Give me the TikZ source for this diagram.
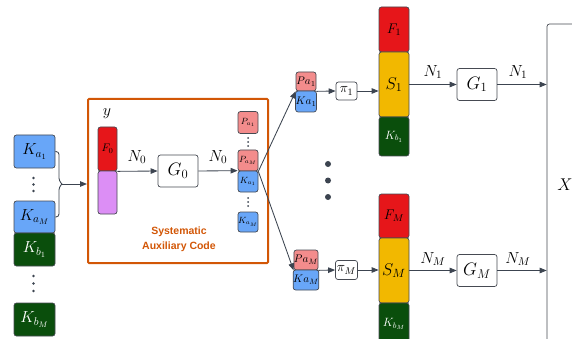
\documentclass[tikz,border=0pt]{standalone}
\usepackage{fix-cm}
\usepackage{fontspec}
\newfontfamily\labfont{Liberation Sans}
\usetikzlibrary{arrows.meta}
\definecolor{bord}{RGB}{70,74,82}
\definecolor{lin}{RGB}{60,68,80}
\definecolor{kblue}{RGB}{104,166,248}
\definecolor{kgreen}{RGB}{10,78,12}
\definecolor{ppink}{RGB}{243,140,140}
\definecolor{fred}{RGB}{230,22,26}
\definecolor{syel}{RGB}{242,184,0}
\definecolor{vpur}{RGB}{220,142,245}
\definecolor{sacor}{RGB}{210,86,6}
\newcommand{\fs}[1]{\fontsize{#1}{#1}\selectfont}
\tikzset{
  bx/.style={draw=bord, line width=0.7pt, rounded corners=2.5pt, inner sep=0pt},
  conn/.style={draw=lin, line width=0.85pt},
  arr/.style={conn, -{Triangle[length=7pt,width=5.5pt]}},
  bluebx/.style={bx, fill=kblue},
  greenbx/.style={bx, fill=kgreen, text=white},
  pinkbx/.style={bx, fill=ppink},
  redbx/.style={bx, fill=fred},
  yelbx/.style={bx, fill=syel},
  purbx/.style={bx, fill=vpur},
  whitebx/.style={bx, fill=white},
  lab/.style={inner sep=0pt},
  dotsm/.style={fill=lin, draw=none, circle, inner sep=0pt, minimum size=2.6pt},
  dotbig/.style={fill=lin, draw=none, circle, inner sep=0pt, minimum size=6pt},
}
\begin{document}
\begin{tikzpicture}[x=1pt,y=-1pt]
\useasboundingbox (0,0) rectangle (572,339);
% left column
\node[bluebx, minimum width=41pt, minimum height=33pt] (ka1) at (34.5,151.5) {\fs{16}$K_{a_1}$};
\node[bluebx, minimum width=41pt, minimum height=32pt] (kaM) at (34.5,217) {\fs{16}$K_{a_M}$};
\node[greenbx, minimum width=41pt, minimum height=33pt] (kb1) at (34.5,249.5) {\fs{16}$K_{b_1}$};
\node[greenbx, minimum width=41pt, minimum height=33pt] (kbM) at (34.5,319.5) {\fs{16}$K_{b_M}$};
\node[dotsm] (ld1) at (33.5,178) {};
\node[dotsm] (ld2) at (33.5,184.5) {};
\node[dotsm] (ld3) at (33.5,191) {};
\node[dotsm] (ld4) at (33.5,276) {};
\node[dotsm] (ld5) at (33.5,283.5) {};
\node[dotsm] (ld6) at (33.5,291) {};
% orange box
\node[draw=sacor, line width=2pt, rounded corners=1pt, minimum width=180pt, minimum height=164pt, inner sep=0pt] (sac) at (178,181) {};
\node[lab, text=sacor, align=center, font=\labfont\bfseries\fontsize{10.5}{15}\selectfont] (sactxt) at (179,239.5) {Systematic\\Auxiliary Code};
% brace
\coordinate (btip) at (62,184);
\draw[conn, rounded corners=3pt] (ka1.east) -- (59,151.5) -- (59,181) -- (btip);
\draw[conn, rounded corners=3pt] (kaM.east) -- (59,217) -- (59,187) -- (btip);
\draw[arr] (btip) -- (sac.west |- btip);
% inside
\node[lab] (ylab) at (107,114) {\fs{16}$y$};
\node[redbx, minimum width=19pt, minimum height=44pt] (f0) at (107.5,149) {\fs{11}$F_0$};
\node[purbx, minimum width=19pt, minimum height=43pt] (pur) at (107.5,192.5) {};
\node[whitebx, minimum width=40pt, minimum height=32pt] (g0) at (178,171) {\fs{18}$G_0$};
\node[pinkbx, minimum width=20pt, minimum height=22pt] (pa1) at (248,122.5) {\fs{9}$P_{a_1}$};
\node[pinkbx, minimum width=20pt, minimum height=21pt] (paM) at (248,160.5) {\fs{9}$P_{a_M}$};
\node[bluebx, minimum width=20pt, minimum height=21pt] (kc1) at (248,181.5) {\fs{9}$K_{a_1}$};
\node[bluebx, minimum width=20pt, minimum height=20pt] (kcM) at (248,222) {\fs{9}$K_{a_M}$};
\node[dotsm, minimum size=2pt] (md1) at (248,138) {};
\node[dotsm, minimum size=2pt] (md2) at (248,142) {};
\node[dotsm, minimum size=2pt] (md3) at (248,146) {};
\node[dotsm, minimum size=2pt] (md4) at (248,198) {};
\node[dotsm, minimum size=2pt] (md5) at (248,202) {};
\node[dotsm, minimum size=2pt] (md6) at (248,206) {};
\draw[arr] (f0.south east) -- (g0.west);
\node[lab] (n0a) at (137,157) {\fs{16}$N_0$};
\draw[arr] (g0.east) -- (kc1.north west);
\node[lab] (n0b) at (218,157) {\fs{16}$N_0$};
% pairs
\node[pinkbx, minimum width=20pt, minimum height=19pt] (pp1) at (306,81.5) {\fs{11}$Pa_1$};
\node[bluebx, minimum width=20pt, minimum height=21pt] (kp1) at (306,101.5) {\fs{11}$Ka_1$};
\node[pinkbx, minimum width=20pt, minimum height=20pt] (ppM) at (306,260) {\fs{11}$Pa_M$};
\node[bluebx, minimum width=20pt, minimum height=20pt] (kpM) at (306,280) {\fs{11}$Ka_M$};
\draw[arr] (paM.south east) -- (pp1.south west);
\draw[arr] (paM.south east) -- (ppM.south west);
\node[whitebx, minimum width=21pt, minimum height=18pt] (pi1) at (346.5,91) {\fs{14}$\pi_1$};
\node[whitebx, minimum width=22pt, minimum height=19pt] (piM) at (346.5,270) {\fs{14}$\pi_M$};
\draw[arr] (pp1.south east) -- (pi1.west);
\draw[arr] (ppM.south east) -- (piM.west);
\node[dotbig] (bd1) at (328,164) {};
\node[dotbig] (bd2) at (328,180.5) {};
\node[dotbig] (bd3) at (328,197) {};
% columns
\node[redbx, minimum width=30pt, minimum height=45pt] (f1) at (394,29.5) {\fs{14}$F_1$};
\node[yelbx, minimum width=30pt, minimum height=65pt] (s1) at (394,84.5) {\fs{17}$S_1$};
\node[greenbx, minimum width=30pt, minimum height=39pt] (kb1c) at (394,136.5) {\fs{12}$K_{b_1}$};
\node[redbx, minimum width=30pt, minimum height=44pt] (fM) at (394,216) {\fs{14}$F_M$};
\node[yelbx, minimum width=30pt, minimum height=65pt] (sM) at (394,270.5) {\fs{17}$S_M$};
\node[greenbx, minimum width=30pt, minimum height=42pt] (kbMc) at (394,324) {\fs{12}$K_{b_M}$};
\draw[arr] (pi1.east) -- (s1.west |- pi1.east);
\draw[arr] (piM.east) -- (sM.west |- piM.east);
\node[whitebx, minimum width=40pt, minimum height=32pt] (g1) at (477,84.5) {\fs{18}$G_1$};
\node[whitebx, minimum width=40pt, minimum height=32pt] (gM) at (477,270.5) {\fs{18}$G_M$};
\node[whitebx, minimum width=36pt, minimum height=322pt] (xb) at (565,185) {\fs{17}$X$};
\draw[arr] (s1.east) -- (g1.west);
\draw[arr] (g1.east) -- (xb.west |- g1.east);
\draw[arr] (sM.east) -- (gM.west);
\draw[arr] (gM.east) -- (xb.west |- gM.east);
\node[lab] (n1a) at (433,72) {\fs{16}$N_1$};
\node[lab] (n1b) at (518,72) {\fs{16}$N_1$};
\node[lab] (nMa) at (433,259) {\fs{16}$N_M$};
\node[lab] (nMb) at (518,259) {\fs{16}$N_M$};
\end{tikzpicture}
\end{document}
